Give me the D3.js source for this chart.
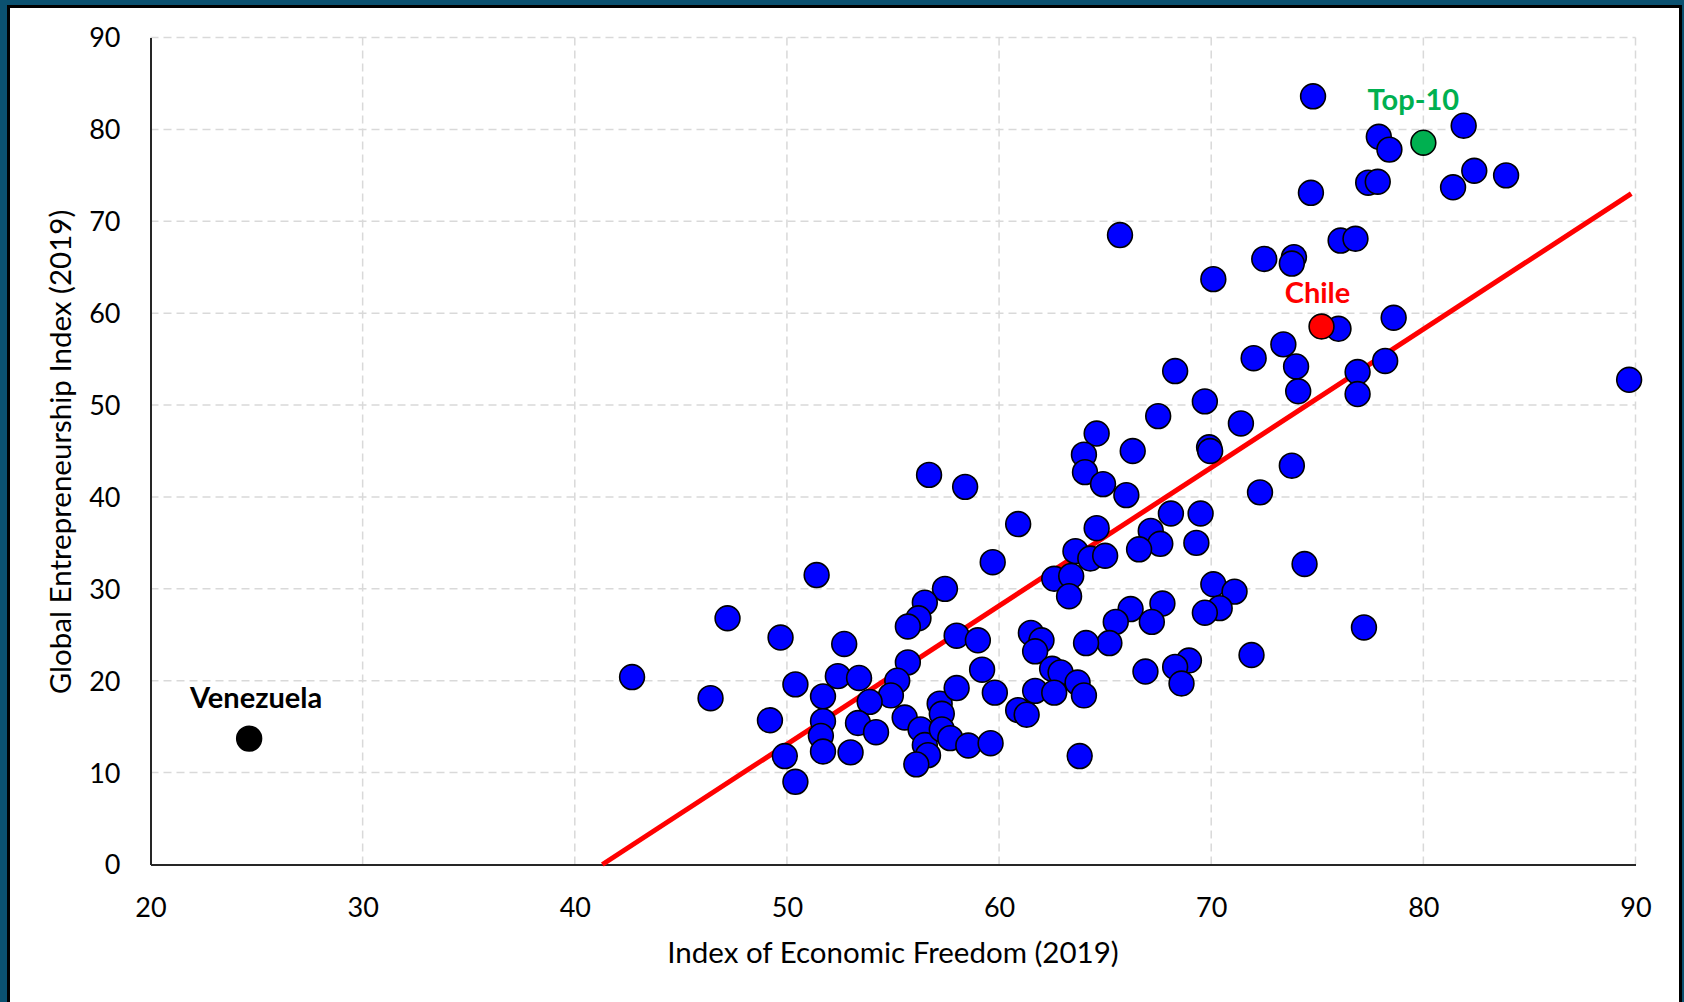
<!DOCTYPE html>
<html>
<head>
<meta charset="utf-8">
<script src="https://cdn.jsdelivr.net/npm/d3@7"></script>
<style>
  html, body { margin: 0; padding: 0; background: #0b5170; }
  svg { display: block; }
  text { font-family: Lato, "Open Sans", sans-serif; }
</style>
</head>
<body>
<svg id="chart" width="1684" height="1002"></svg>
<script>
// Index of Economic Freedom (x) vs Global Entrepreneurship Index (y), 2019
const freedomIndex = [
  74.8, 77.9, 78.4, 81.9, 77.4, 77.85, 74.7, 82.4, 81.4, 83.9,
  65.7, 76.1, 76.8, 72.5, 73.9, 73.8, 70.1, 76.0, 78.6, 73.4,
  72.0, 74.0, 74.1, 76.9, 76.9, 78.2, 89.7, 68.3, 69.7, 67.5,
  71.4, 64.6, 66.3, 64.0, 64.05, 64.9, 66.0, 69.9, 69.95, 73.8,
  72.3, 68.1, 69.5, 69.3, 74.4, 56.7, 58.4, 60.9, 64.6, 67.15,
  67.6, 66.6, 63.6, 64.3, 65.0, 62.6, 63.4, 63.3, 59.7, 51.4,
  57.45, 56.5, 56.2, 55.7, 47.2, 49.7, 52.7, 70.1, 71.1, 70.4,
  69.7, 67.7, 66.2, 67.2, 65.5, 65.2, 64.1, 77.2, 71.9, 68.95,
  68.3, 68.6, 66.9, 58.0, 59.0, 61.5, 62.0, 61.7, 42.7, 46.4,
  50.4, 52.4, 53.4, 51.7, 55.7, 55.2, 54.9, 53.9, 49.2, 51.7,
  51.6, 51.7, 49.9, 50.4, 53.0, 53.35, 54.2, 55.55, 56.3, 56.5,
  56.65, 56.1, 57.2, 57.3, 57.3, 57.7, 58.55, 59.6, 58.0, 59.2,
  59.8, 60.9, 61.3, 61.7, 62.5, 62.9, 62.6, 63.7, 64.0, 63.8
];
const entrepreneurshipIndex = [
  83.6, 79.2, 77.8, 80.4, 74.2, 74.3, 73.1, 75.5, 73.7, 75.0,
  68.5, 67.9, 68.1, 65.9, 66.1, 65.4, 63.7, 58.3, 59.5, 56.6,
  55.1, 54.2, 51.5, 53.6, 51.2, 54.8, 52.75, 53.7, 50.4, 48.8,
  48.0, 46.9, 45.0, 44.6, 42.7, 41.4, 40.2, 45.4, 45.0, 43.4,
  40.5, 38.2, 38.2, 35.0, 32.7, 42.4, 41.1, 37.05, 36.6, 36.3,
  34.9, 34.3, 34.1, 33.3, 33.6, 31.1, 31.4, 29.2, 32.9, 31.5,
  30.0, 28.5, 26.8, 25.9, 26.8, 24.7, 24.0, 30.5, 29.7, 27.9,
  27.4, 28.4, 27.8, 26.4, 26.4, 24.1, 24.1, 25.8, 22.8, 22.2,
  21.5, 19.7, 21.0, 24.9, 24.4, 25.2, 24.4, 23.2, 20.4, 18.1,
  19.6, 20.5, 20.3, 18.3, 22.0, 20.0, 18.4, 17.7, 15.7, 15.6,
  14.0, 12.3, 11.8, 9.0, 12.2, 15.4, 14.4, 16.0, 14.7, 13.0,
  11.9, 10.9, 17.5, 16.4, 14.7, 13.75, 12.95, 13.2, 19.2, 21.2,
  18.7, 16.8, 16.3, 18.9, 21.3, 20.9, 18.7, 19.8, 18.4, 11.8
];

// Labelled countries drawn on top of the main cloud
const highlightNames  = ["Venezuela", "Chile", "Top-10"];
const highlightX      = [24.65, 75.2, 80.0];
const highlightY      = [13.7, 58.55, 78.55];
const highlightColors = ["#000000", "#ff0000", "#00b050"];

// Linear trend line end points
const trendX = [41.3, 89.8];
const trendY = [0, 73.0];

const xTicks = [20, 30, 40, 50, 60, 70, 80, 90];
const yTicks = [0, 10, 20, 30, 40, 50, 60, 70, 80, 90];

const xTitle = "Index of Economic Freedom (2019)";
const yTitle = "Global Entrepreneurship Index (2019)";

const svg = d3.select("#chart");

// white card with a dark frame
svg.append("rect")
  .attr("x", 8.5).attr("y", 6.5)
  .attr("width", 1672).attr("height", 1010)
  .attr("fill", "#ffffff")
  .attr("stroke", "#000000").attr("stroke-width", 3);

const x = d3.scaleLinear().domain([20, 90]).range([150.5, 1635.5]);
const y = d3.scaleLinear().domain([0, 90]).range([864.5, 37.5]);

// dashed grid
const grid = svg.append("g").attr("stroke", "#d9d9d9").attr("stroke-width", 1.5)
  .attr("stroke-dasharray", "8,5");
grid.selectAll("line.gx").data(xTicks.filter(d => d > 20)).join("line")
  .attr("class", "gx")
  .attr("x1", d => x(d)).attr("x2", d => x(d))
  .attr("y1", y(0)).attr("y2", y(90));
grid.selectAll("line.gy").data(yTicks.filter(d => d > 0)).join("line")
  .attr("class", "gy")
  .attr("x1", x(20)).attr("x2", x(90))
  .attr("y1", d => y(d)).attr("y2", d => y(d));

// axes
const xAxis = svg.append("g")
  .attr("transform", `translate(0,${y(0)})`)
  .call(d3.axisBottom(x).tickValues(xTicks).tickSize(0).tickPadding(33).tickFormat(d3.format("d")));
const yAxis = svg.append("g")
  .attr("transform", `translate(${x(20)},0)`)
  .call(d3.axisLeft(y).tickValues(yTicks).tickSize(0).tickPadding(30).tickFormat(d3.format("d")));
[xAxis, yAxis].forEach(a => {
  a.select(".domain").attr("stroke", "#262626").attr("stroke-width", 2);
  a.selectAll("text").attr("font-size", 27).attr("fill", "#000")
    .style("font-family", "Lato, 'Open Sans', sans-serif");
});
yAxis.selectAll(".tick text").attr("dy", "0.35em");

// axis titles
svg.append("text")
  .attr("x", 893).attr("y", 963)
  .attr("text-anchor", "middle")
  .attr("font-size", 29.5).attr("fill", "#000")
  .text(xTitle);
svg.append("text")
  .attr("transform", "translate(71,452) rotate(-90)")
  .attr("text-anchor", "middle")
  .attr("font-size", 29.5).attr("fill", "#000")
  .text(yTitle);

// trend line
svg.append("line")
  .attr("x1", x(trendX[0])).attr("y1", y(trendY[0]))
  .attr("x2", x(trendX[1])).attr("y2", y(trendY[1]))
  .attr("stroke", "#ff0000").attr("stroke-width", 5);

// all countries
const points = freedomIndex.map((v, i) => ({ x: v, y: entrepreneurshipIndex[i] }));
svg.append("g").selectAll("circle").data(points).join("circle")
  .attr("cx", d => x(d.x)).attr("cy", d => y(d.y)).attr("r", 12.4)
  .attr("fill", "#0000ff").attr("stroke", "#000").attr("stroke-width", 1.6);

// highlighted countries with labels
const hl = highlightNames.map((n, i) => ({ name: n, x: highlightX[i], y: highlightY[i], color: highlightColors[i] }));
svg.append("g").selectAll("circle").data(hl).join("circle")
  .attr("cx", d => x(d.x)).attr("cy", d => y(d.y)).attr("r", 12.4)
  .attr("fill", d => d.color).attr("stroke", "#000").attr("stroke-width", 1.6);

const labelOffsets = { "Venezuela": [7, -31], "Chile": [-4, -23], "Top-10": [-10, -33] };
svg.append("g").selectAll("text").data(hl).join("text")
  .attr("x", d => x(d.x) + labelOffsets[d.name][0])
  .attr("y", d => y(d.y) + labelOffsets[d.name][1])
  .attr("text-anchor", "middle")
  .attr("font-size", 29).attr("font-weight", "bold")
  .attr("fill", d => d.color)
  .text(d => d.name);
</script>
</body>
</html>
